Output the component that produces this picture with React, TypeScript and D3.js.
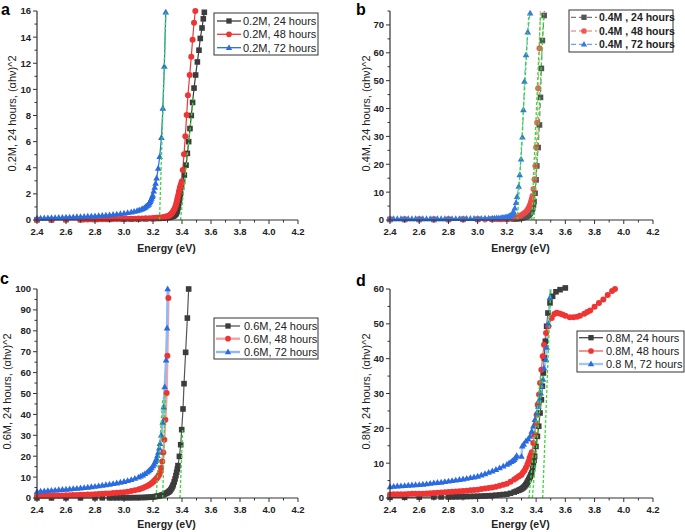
import React from 'react';
import * as d3 from 'd3';

type Pt = [number, number];

const energyTicks = [2.4, 2.6, 2.8, 3.0, 3.2, 3.4, 3.6, 3.8, 4.0, 4.2];

// ---------- Panel a (0.2M) ----------
const a24: Pt[] = [[2.40,0.02],[2.50,0.02],[2.60,0.03],[2.70,0.03],[2.80,0.04],[2.90,0.05],[3.00,0.06],[3.05,0.07],[3.10,0.08],[3.15,0.09],[3.20,0.10],[3.24,0.12],[3.27,0.14],[3.30,0.18],[3.31,0.20],[3.32,0.22],[3.33,0.26],[3.34,0.30],[3.345,0.34],[3.35,0.38],[3.355,0.44],[3.36,0.50],[3.363,0.58],[3.366,0.68],[3.369,0.8],[3.372,0.95],[3.375,1.12],[3.378,1.3],[3.381,1.47],[3.384,1.65],[3.387,1.85],[3.39,2.05],[3.397,2.5],[3.404,2.95],[3.416,3.44],[3.428,4.2],[3.437,5.1],[3.446,6.0],[3.455,7.0],[3.464,8.0],[3.473,9.0],[3.483,10.1],[3.494,11.1],[3.506,12.1],[3.517,13.0],[3.526,13.9],[3.538,14.7],[3.547,15.4],[3.554,15.9],[3.562,16.6]];
const a48: Pt[] = [[2.40,0.02],[2.50,0.02],[2.60,0.03],[2.70,0.04],[2.725,0.04],[2.75,0.04],[2.775,0.05],[2.80,0.05],[2.825,0.05],[2.85,0.06],[2.875,0.06],[2.90,0.07],[2.925,0.07],[2.95,0.08],[2.975,0.08],[3.00,0.09],[3.025,0.09],[3.05,0.10],[3.075,0.10],[3.10,0.11],[3.125,0.12],[3.15,0.13],[3.175,0.14],[3.20,0.16],[3.22,0.17],[3.24,0.19],[3.26,0.20],[3.27,0.21],[3.28,0.23],[3.29,0.26],[3.30,0.29],[3.31,0.33],[3.315,0.36],[3.32,0.40],[3.325,0.46],[3.33,0.52],[3.335,0.6],[3.34,0.68],[3.345,0.78],[3.35,0.9],[3.355,1.05],[3.36,1.25],[3.364,1.4],[3.367,1.55],[3.37,1.7],[3.374,1.9],[3.378,2.1],[3.381,2.25],[3.385,2.45],[3.389,2.6],[3.393,2.75],[3.398,2.93],[3.405,3.82],[3.414,5.04],[3.423,6.42],[3.432,8.03],[3.441,9.55],[3.453,11.1],[3.464,12.5],[3.473,13.8],[3.483,15.1],[3.492,16.0],[3.5,16.8]];
const a72: Pt[] = [[2.400,0.13],[2.425,0.135],[2.45,0.14],[2.475,0.15],[2.50,0.16],[2.525,0.17],[2.55,0.18],[2.575,0.19],[2.60,0.20],[2.625,0.21],[2.65,0.22],[2.675,0.235],[2.70,0.25],[2.725,0.26],[2.75,0.27],[2.775,0.285],[2.80,0.30],[2.825,0.32],[2.85,0.34],[2.875,0.36],[2.90,0.38],[2.925,0.41],[2.95,0.44],[2.975,0.47],[3.00,0.51],[3.025,0.55],[3.05,0.60],[3.07,0.65],[3.09,0.70],[3.105,0.75],[3.12,0.80],[3.13,0.86],[3.14,0.92],[3.148,0.98],[3.155,1.05],[3.163,1.12],[3.17,1.2],[3.175,1.3],[3.18,1.4],[3.185,1.52],[3.19,1.65],[3.195,1.78],[3.198,1.9],[3.205,2.2],[3.212,2.5],[3.218,2.8],[3.225,3.2],[3.236,3.95],[3.246,4.84],[3.258,6.3],[3.268,8.54],[3.278,11.75],[3.288,15.9],[3.295,18.5]];
const aFits: Pt[][] = [[[3.245,0],[3.289,16]],[[3.39,0],[3.48,9.5]]];
const aLegend = ['0.2M, 24 hours', '0.2M, 48 hours', '0.2M, 72 hours'];
const aYTicks = [0, 2, 4, 6, 8, 10, 12, 14, 16];

// ---------- Panel b (0.4M) ----------
const b24: Pt[] = [[2.40,0.2],[2.50,0.2],[2.60,0.2],[2.70,0.2],[2.80,0.2],[2.90,0.25],[3.00,0.25],[3.10,0.3],[3.15,0.3],[3.20,0.3],[3.245,0.36],[3.258,0.4],[3.27,0.45],[3.28,0.52],[3.29,0.6],[3.30,0.7],[3.31,0.8],[3.323,1.0],[3.336,1.2],[3.342,1.45],[3.348,1.7],[3.354,2.05],[3.359,2.4],[3.364,2.8],[3.369,3.2],[3.373,3.7],[3.377,4.2],[3.382,5.4],[3.386,6.6],[3.393,9.6],[3.40,14.4],[3.405,19.4],[3.414,26.0],[3.423,34.1],[3.43,44.0],[3.436,54.4],[3.443,64.4],[3.455,73.4],[3.46,82]];
const b48: Pt[] = [[2.40,0.2],[2.50,0.2],[2.60,0.2],[2.70,0.2],[2.80,0.2],[2.90,0.2],[3.00,0.2],[3.05,0.2],[3.10,0.22],[3.125,0.23],[3.153,0.25],[3.165,0.3],[3.18,0.35],[3.19,0.42],[3.20,0.5],[3.212,0.57],[3.225,0.65],[3.235,0.72],[3.245,0.8],[3.258,0.95],[3.27,1.1],[3.28,1.25],[3.29,1.4],[3.30,1.75],[3.313,2.2],[3.325,2.7],[3.336,3.2],[3.342,3.7],[3.348,4.2],[3.354,4.8],[3.359,5.4],[3.363,6.0],[3.366,6.6],[3.37,7.5],[3.375,8.6],[3.382,11.1],[3.389,14.6],[3.395,19.4],[3.40,26.0],[3.407,34.9],[3.414,47.3],[3.423,61.6],[3.432,80]];
const b72: Pt[] = [[2.40,0.4],[2.425,0.4],[2.45,0.4],[2.475,0.4],[2.50,0.4],[2.525,0.4],[2.55,0.4],[2.575,0.4],[2.60,0.4],[2.625,0.4],[2.65,0.4],[2.675,0.4],[2.70,0.4],[2.725,0.4],[2.75,0.4],[2.775,0.42],[2.80,0.45],[2.825,0.45],[2.85,0.45],[2.875,0.45],[2.90,0.45],[2.925,0.47],[2.95,0.5],[2.975,0.5],[3.00,0.5],[3.025,0.52],[3.05,0.55],[3.075,0.57],[3.10,0.6],[3.115,0.62],[3.13,0.65],[3.145,0.7],[3.16,0.75],[3.17,0.8],[3.18,0.85],[3.19,0.92],[3.20,1.0],[3.208,1.15],[3.215,1.3],[3.22,1.4],[3.225,1.5],[3.229,1.65],[3.233,1.8],[3.237,2.05],[3.24,2.3],[3.245,3.0],[3.254,4.2],[3.263,6.2],[3.27,8.4],[3.281,12.0],[3.288,16.2],[3.297,21.8],[3.306,29.7],[3.313,39.5],[3.32,49.7],[3.331,59.2],[3.343,67.4],[3.359,74.2]];
const bFits: Pt[][] = [[[3.272,0],[3.35,74]],[[3.37,0],[3.43,74]],[[3.385,0],[3.452,74]]];
const bLegend = ['0.4M , 24 hours', '0.4M , 48 hours', '0.4M , 72 hours'];
const bYTicks = [0, 10, 20, 30, 40, 50, 60, 70];

// ---------- Panel c (0.6M) ----------
const c24: Pt[] = [[2.40,0.05],[2.50,0.05],[2.60,0.06],[2.70,0.07],[2.80,0.08],[2.85,0.09],[2.90,0.1],[2.925,0.11],[2.95,0.11],[2.975,0.12],[3.00,0.12],[3.02,0.13],[3.041,0.15],[3.06,0.16],[3.08,0.18],[3.10,0.2],[3.12,0.23],[3.14,0.26],[3.156,0.3],[3.17,0.36],[3.185,0.42],[3.20,0.5],[3.212,0.65],[3.225,0.8],[3.237,0.95],[3.25,1.1],[3.26,1.35],[3.271,1.6],[3.28,1.9],[3.29,2.2],[3.298,2.5],[3.305,2.8],[3.311,3.15],[3.317,3.5],[3.323,4.1],[3.33,4.8],[3.335,5.6],[3.34,6.4],[3.346,7.7],[3.352,9.1],[3.358,10.7],[3.363,12.3],[3.368,13.9],[3.372,15.5],[3.382,19.9],[3.391,25.5],[3.398,32.7],[3.407,42.6],[3.414,54.7],[3.425,69.7],[3.437,86.1],[3.446,100],[3.45,106]];
const c48: Pt[] = [[2.40,1.0],[2.425,1.02],[2.45,1.05],[2.475,1.08],[2.50,1.1],[2.525,1.15],[2.55,1.2],[2.575,1.25],[2.60,1.3],[2.625,1.35],[2.65,1.4],[2.675,1.45],[2.70,1.5],[2.725,1.58],[2.75,1.65],[2.775,1.72],[2.80,1.8],[2.825,1.9],[2.85,2.0],[2.875,2.1],[2.90,2.2],[2.925,2.35],[2.95,2.5],[2.975,2.65],[3.00,2.8],[3.025,3.05],[3.05,3.3],[3.075,3.7],[3.10,4.1],[3.115,4.45],[3.13,4.8],[3.145,5.25],[3.16,5.7],[3.17,6.15],[3.18,6.6],[3.19,7.1],[3.20,7.6],[3.208,8.1],[3.215,8.6],[3.22,8.95],[3.225,9.3],[3.231,9.9],[3.237,10.5],[3.243,11.3],[3.248,12.2],[3.255,14.4],[3.264,17.5],[3.271,21.8],[3.278,27.9],[3.285,37.5],[3.294,50.2],[3.299,68.1],[3.306,95.7],[3.31,110]];
const c72: Pt[] = [[2.40,3.0],[2.425,3.15],[2.45,3.3],[2.475,3.45],[2.50,3.6],[2.525,3.7],[2.55,3.85],[2.575,4.0],[2.60,4.1],[2.625,4.25],[2.65,4.4],[2.675,4.55],[2.70,4.7],[2.725,4.9],[2.75,5.1],[2.775,5.3],[2.80,5.5],[2.825,5.75],[2.85,6.0],[2.875,6.25],[2.90,6.5],[2.925,6.8],[2.95,7.1],[2.975,7.45],[3.00,7.8],[3.025,8.25],[3.05,8.7],[3.075,9.3],[3.10,9.9],[3.115,10.4],[3.13,10.9],[3.145,11.6],[3.16,12.3],[3.17,12.9],[3.18,13.6],[3.19,14.4],[3.20,15.3],[3.208,16.2],[3.215,17.2],[3.22,18.0],[3.225,18.8],[3.231,20.2],[3.237,21.8],[3.243,23.8],[3.248,26.0],[3.257,30.0],[3.267,36.2],[3.274,43.5],[3.281,53.1],[3.29,65.9],[3.297,81.3],[3.301,100],[3.305,110]];
const cFits: Pt[][] = [[[3.221,0],[3.268,48]],[[3.267,0],[3.285,50]],[[3.386,0],[3.405,33]]];
const cLegend = ['0.6M, 24 hours', '0.6M, 48 hours', '0.6M, 72 hours'];
const cYTicks = [0, 10, 20, 30, 40, 50, 60, 70, 80, 90, 100];

// ---------- Panel d (0.8M) ----------
const d24: Pt[] = [[2.40,0.2],[2.50,0.2],[2.60,0.25],[2.70,0.3],[2.75,0.3],[2.80,0.3],[2.825,0.32],[2.85,0.35],[2.875,0.37],[2.90,0.4],[2.925,0.42],[2.95,0.45],[2.975,0.48],[3.00,0.5],[3.025,0.55],[3.05,0.6],[3.075,0.65],[3.10,0.7],[3.125,0.8],[3.15,0.9],[3.175,1.0],[3.20,1.1],[3.225,1.35],[3.25,1.7],[3.265,1.95],[3.28,2.2],[3.29,2.4],[3.30,2.6],[3.308,2.85],[3.315,3.1],[3.323,3.45],[3.33,3.8],[3.335,4.15],[3.34,4.5],[3.345,4.9],[3.35,5.3],[3.355,5.75],[3.36,6.2],[3.365,6.7],[3.37,7.2],[3.376,8.4],[3.381,9.6],[3.386,10.8],[3.39,12.0],[3.399,14.8],[3.409,17.7],[3.418,20.6],[3.427,24.4],[3.436,28.2],[3.443,32.1],[3.45,35.9],[3.456,40.2],[3.463,45.0],[3.472,49.3],[3.481,53.1],[3.495,56.0],[3.513,57.9],[3.536,59.2],[3.564,59.8],[3.60,60.3],[3.62,61]];
const d48: Pt[] = [[2.40,1.0],[2.425,1.05],[2.45,1.1],[2.475,1.1],[2.50,1.1],[2.525,1.15],[2.55,1.2],[2.575,1.2],[2.60,1.2],[2.625,1.25],[2.65,1.3],[2.675,1.35],[2.70,1.4],[2.725,1.48],[2.75,1.55],[2.775,1.62],[2.80,1.7],[2.825,1.8],[2.85,1.9],[2.875,1.95],[2.90,2.0],[2.925,2.1],[2.95,2.2],[2.975,2.3],[3.00,2.4],[3.025,2.55],[3.05,2.7],[3.075,2.85],[3.10,3.0],[3.125,3.25],[3.15,3.5],[3.175,3.8],[3.20,4.1],[3.225,4.65],[3.25,5.3],[3.265,5.75],[3.28,6.2],[3.29,6.45],[3.30,6.7],[3.31,7.3],[3.32,7.9],[3.33,8.7],[3.34,9.6],[3.348,10.5],[3.355,11.5],[3.362,12.3],[3.37,13.1],[3.381,15.8],[3.388,18.2],[3.397,21.1],[3.404,23.9],[3.411,26.8],[3.42,29.7],[3.427,33.0],[3.436,36.8],[3.445,40.7],[3.454,44.0],[3.468,47.4],[3.484,49.3],[3.507,51.7],[3.525,52.8],[3.541,53.2],[3.56,53.0],[3.58,52.7],[3.60,52.3],[3.63,51.9],[3.655,51.9],[3.68,52.0],[3.70,52.3],[3.73,52.9],[3.75,53.4],[3.77,53.8],[3.80,54.9],[3.83,56.0],[3.86,57.0],[3.89,58.3],[3.92,59.4],[3.94,60.0],[3.96,61]];
const d72: Pt[] = [[2.40,3.2],[2.425,3.3],[2.45,3.4],[2.475,3.45],[2.50,3.5],[2.525,3.6],[2.55,3.7],[2.575,3.75],[2.60,3.8],[2.625,3.9],[2.65,4.0],[2.675,4.15],[2.70,4.3],[2.725,4.4],[2.75,4.5],[2.775,4.65],[2.80,4.8],[2.825,4.95],[2.85,5.1],[2.875,5.25],[2.90,5.4],[2.925,5.6],[2.95,5.8],[2.975,6.0],[3.00,6.2],[3.025,6.55],[3.05,6.9],[3.075,7.3],[3.10,7.7],[3.125,8.15],[3.15,8.6],[3.175,9.1],[3.20,9.6],[3.215,10.0],[3.23,10.4],[3.24,10.7],[3.25,11.0],[3.258,11.5],[3.267,12.1],[3.30,11.9],[3.305,14.9],[3.315,15.4],[3.33,16.3],[3.346,16.9],[3.358,17.7],[3.37,19.1],[3.381,20.6],[3.392,22.5],[3.404,24.4],[3.415,26.3],[3.422,28.2],[3.431,30.1],[3.438,32.1],[3.447,34.0],[3.454,37.3],[3.468,39.7],[3.473,43.2],[3.484,50.0],[3.495,57.5],[3.5,61]];
const dFits: Pt[][] = [[[3.351,0],[3.43,35]],[[3.374,0],[3.445,35]],[[3.445,0],[3.5,60]]];
const dLegend = ['0.8M, 24 hours', '0.8M, 48 hours', '0.8 M, 72 hours'];
const dYTicks = [0, 10, 20, 30, 40, 50, 60];

type Shape = 'square' | 'circle' | 'triangle';
interface SStyle { shape: Shape; fill: string; line: string; lw: number; dash?: string; op?: number; }

const FONT = 'Arial, "Liberation Sans", sans-serif';
const BLK = '#3c3c3c', RED = '#f03434', BLU = '#2a6be0';

function Marker({ shape, cx, cy, fill, op = 1, s = 1 }: { shape: Shape; cx: number; cy: number; fill: string; op?: number; s?: number }) {
  if (shape === 'square') return <rect x={cx - 2.8 * s} y={cy - 2.8 * s} width={5.6 * s} height={5.6 * s} fill={fill} opacity={op} />;
  if (shape === 'circle') return <circle cx={cx} cy={cy} r={3 * s} fill={fill} opacity={op} />;
  return <path d={`M${cx},${cy - 3.6 * s}L${cx + 3.3 * s},${cy + 2.3 * s}L${cx - 3.3 * s},${cy + 2.3 * s}Z`} fill={fill} opacity={op} />;
}

interface PanelCfg {
  id: string; left: number; right: number; top: number; bottom: number; yMax: number;
  yTicks: number[]; yMinor: number; series: Pt[][]; styles: SStyle[]; fits: Pt[][];
  legend: string[]; legBox: [number, number, number, number]; legRows: number[];
  legLine: [number, number]; legText: number; legBold?: boolean;
  letter: string; letterPos: [number, number]; yLabel: string; yLabelX: number; xLabelY: number;
}

function Panel({ c }: { c: PanelCfg }) {
  const x = d3.scaleLinear().domain([2.4, 4.2]).range([c.left, c.right]);
  const y = d3.scaleLinear().domain([0, c.yMax]).range([c.bottom, c.top]);
  const line = d3.line<Pt>().x(d => x(d[0])).y(d => y(d[1]));
  const minorX = d3.range(2.4, 4.2001, 0.1);
  const minorY = d3.range(0, c.yMax + 1e-6, c.yMinor);
  const clipId = 'clip-' + c.id;
  const yMid = (c.top + c.bottom) / 2;
  return (
    <g>
      <defs>
        <clipPath id={clipId}><rect x={c.left} y={c.top} width={c.right - c.left} height={c.bottom - c.top + 6} /></clipPath>
      </defs>
      <text x={c.letterPos[0]} y={c.letterPos[1]} fontSize={16} fontWeight="bold" fontFamily={FONT}>{c.letter}</text>
      <g clipPath={`url(#${clipId})`}>
        {c.series.map((s, i) => (
          <path key={'l' + i} d={line(s) || ''} fill="none" stroke={c.styles[i].line} strokeWidth={c.styles[i].lw} strokeDasharray={c.styles[i].dash} />
        ))}
      </g>
      {c.series.map((s, i) => (
        <g key={'m' + i}>
          {s.filter(p => p[1] <= c.yMax * 1.005 && p[0] <= 4.2).map((p, j) => (
            <Marker key={j} shape={c.styles[i].shape} cx={x(p[0])} cy={y(p[1])} fill={c.styles[i].fill} op={c.styles[i].op} />
          ))}
        </g>
      ))}
      <g clipPath={`url(#${clipId})`}>
        {c.fits.map((f, i) => (
          <path key={'f' + i} d={line(f) || ''} fill="none" stroke="#33dd33" strokeWidth={1.3} strokeDasharray="3,2" />
        ))}
      </g>
      <line x1={c.left} x2={c.right} y1={c.bottom} y2={c.bottom} stroke="#333" strokeWidth={1.2} />
      <line x1={c.left} x2={c.left} y1={c.bottom} y2={c.top} stroke="#333" strokeWidth={1.2} />
      {minorX.map((v, i) => (
        <line key={'xt' + i} x1={x(v)} x2={x(v)} y1={c.bottom} y2={c.bottom + (i % 2 === 0 ? 4 : 2.5)} stroke="#333" strokeWidth={1} />
      ))}
      {energyTicks.map(v => (
        <text key={'xl' + v} x={x(v)} y={c.bottom + 15} fontSize={9.5} fontWeight="bold" textAnchor="middle" fontFamily={FONT} fill="#222">{v.toFixed(1)}</text>
      ))}
      {minorY.map((v, i) => (
        <line key={'yt' + i} x1={c.left} x2={c.left - (i % 2 === 0 ? 4 : 2.5)} y1={y(v)} y2={y(v)} stroke="#333" strokeWidth={1} />
      ))}
      {c.yTicks.map(v => (
        <text key={'yl' + v} x={c.left - 6} y={y(v) + 3.4} fontSize={9.5} fontWeight="bold" textAnchor="end" fontFamily={FONT} fill="#222">{v}</text>
      ))}
      <text x={(c.left + c.right) / 2 - 1} y={c.xLabelY} fontSize={10.5} fontWeight="bold" textAnchor="middle" fontFamily={FONT} fill="#222">Energy (eV)</text>
      <text transform={`translate(${c.yLabelX},${yMid - 2}) rotate(-90)`} fontSize={11} textAnchor="middle" fontFamily={FONT} fill="#222">{c.yLabel}</text>
      <rect x={c.legBox[0]} y={c.legBox[1]} width={c.legBox[2]} height={c.legBox[3]} fill="#fff" stroke="#333" strokeWidth={1} />
      {c.legend.map((t, i) => (
        <g key={'lg' + i}>
          <line x1={c.legLine[0]} x2={c.legLine[1]} y1={c.legRows[i]} y2={c.legRows[i]} stroke={c.styles[i].line} strokeWidth={Math.max(1.3, c.styles[i].lw)} strokeDasharray={c.styles[i].dash} />
          <Marker shape={c.styles[i].shape} cx={(c.legLine[0] + c.legLine[1]) / 2} cy={c.legRows[i]} fill={c.styles[i].fill} op={c.styles[i].op} s={0.95} />
          <text x={c.legText} y={c.legRows[i] + 4} fontSize={c.legBold ? 10.5 : 11} fontWeight={c.legBold ? 'bold' : 'normal'} fontFamily={FONT} fill="#222">{t}</text>
        </g>
      ))}
    </g>
  );
}

const panels: PanelCfg[] = [
  {
    id: 'a', left: 37, right: 298, top: 11, bottom: 220, yMax: 16, yTicks: aYTicks, yMinor: 1,
    series: [a24, a48, a72],
    styles: [
      { shape: 'square', fill: BLK, line: BLK, lw: 1.2 },
      { shape: 'circle', fill: RED, line: RED, lw: 1.2 },
      { shape: 'triangle', fill: BLU, line: BLU, lw: 1.2 },
    ],
    fits: aFits, legend: aLegend, legBox: [214, 13, 104, 42], legRows: [21, 34.3, 47.7], legLine: [217, 241], legText: 243,
    letter: 'a', letterPos: [1, 15], yLabel: '0.2M, 24 hours, (αhν)^2', yLabelX: 15.5, xLabelY: 252,
  },
  {
    id: 'b', left: 390, right: 653, top: 11, bottom: 220, yMax: 75, yTicks: bYTicks, yMinor: 5,
    series: [b24, b48, b72],
    styles: [
      { shape: 'square', fill: '#555', line: '#777', lw: 1.1, dash: '5,3' },
      { shape: 'circle', fill: '#f04848', line: '#f59a9a', lw: 1.1, dash: '5,3', op: 0.9 },
      { shape: 'triangle', fill: '#3577e4', line: '#6f9fea', lw: 1.1, dash: '5,3' },
    ],
    fits: bFits, legend: bLegend, legBox: [569, 10, 104, 42], legRows: [17.3, 31, 44.3], legLine: [571, 597], legText: 599, legBold: true,
    letter: 'b', letterPos: [356, 15], yLabel: '0.4M, 24 hours, (αhν)^2', yLabelX: 370, xLabelY: 252,
  },
  {
    id: 'c', left: 37, right: 298, top: 289, bottom: 498, yMax: 100, yTicks: cYTicks, yMinor: 5,
    series: [c24, c48, c72],
    styles: [
      { shape: 'square', fill: BLK, line: '#555', lw: 1.2 },
      { shape: 'circle', fill: RED, line: '#f6a2a2', lw: 2.4 },
      { shape: 'triangle', fill: BLU, line: '#8fb9f2', lw: 2.4 },
    ],
    fits: cFits, legend: cLegend, legBox: [214, 318, 104, 41], legRows: [326, 338.7, 352], legLine: [216, 240], legText: 244,
    letter: 'c', letterPos: [0, 284], yLabel: '0.6M, 24 hours, (αhν)^2', yLabelX: 11, xLabelY: 528,
  },
  {
    id: 'd', left: 390, right: 653, top: 289, bottom: 498, yMax: 60, yTicks: dYTicks, yMinor: 5,
    series: [d24, d48, d72],
    styles: [
      { shape: 'square', fill: BLK, line: '#444', lw: 1.2 },
      { shape: 'circle', fill: RED, line: '#f25a5a', lw: 1.2 },
      { shape: 'triangle', fill: BLU, line: '#a3c5f2', lw: 2.4 },
    ],
    fits: dFits, legend: dLegend, legBox: [577, 331, 107, 41], legRows: [337.7, 351, 364], legLine: [579, 603], legText: 606,
    letter: 'd', letterPos: [356, 286], yLabel: '0.8M, 24 hours, (αhν)^2', yLabelX: 370, xLabelY: 528,
  },
];

export default function App() {
  return (
    <svg width={685} height={532} style={{ position: 'absolute', left: 0, top: 0, background: '#fff' }}>
      {panels.map(p => <Panel key={p.id} c={p} />)}
    </svg>
  );
}
